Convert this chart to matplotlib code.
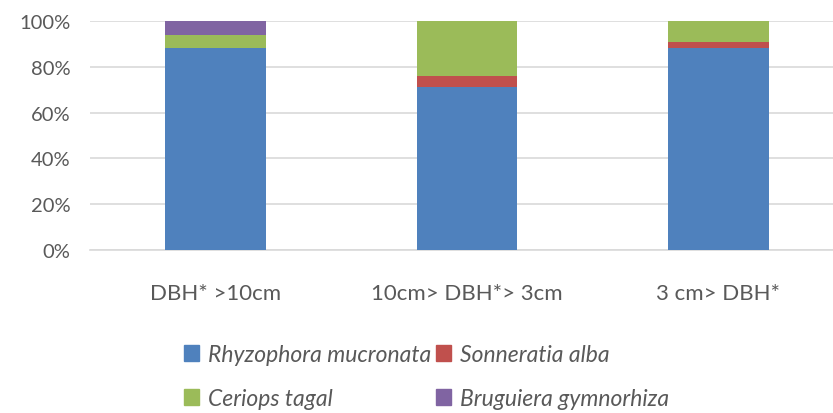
import numpy as np
import matplotlib.pyplot as plt
from matplotlib.patches import Patch

plt.rcParams['font.family'] = ['Lato', 'DejaVu Sans']

categories = ["DBH* >10cm", "10cm> DBH*> 3cm", "3 cm> DBH*"]
species = ["Rhyzophora mucronata", "Sonneratia alba", "Ceriops tagal", "Bruguiera gymnorhiza"]
rhyzophora = [88, 71, 88]
sonneratia = [0, 5, 3]
ceriops = [6, 24, 9]
bruguiera = [6, 0, 0]
colors = ["#4F81BD", "#C0504D", "#9BBB59", "#8064A2"]

series = [rhyzophora, sonneratia, ceriops, bruguiera]

fig = plt.figure(figsize=(8.33, 4.14), dpi=100)
ax = fig.add_axes([90/833, 1 - 251/414, (833 - 90)/833, (251 - 22)/414])

x = np.arange(len(categories))
bottom = np.zeros(len(categories))
for vals, c in zip(series, colors):
    ax.bar(x, vals, 0.4, bottom=bottom, color=c, zorder=3)
    bottom += np.array(vals)

ax.set_ylim(0, 100)
ax.set_xlim(-0.5, 2 + (833 - 718) / 252)
ax.set_yticks(range(0, 101, 20))
ax.set_yticklabels([f"{v}%" for v in range(0, 101, 20)])
ax.set_xticks(x)
ax.set_xticklabels(categories)
ax.yaxis.grid(True, color="#D9D9D9", linewidth=1.2, zorder=0)
for s in ["top", "right", "left"]:
    ax.spines[s].set_visible(False)
ax.spines["bottom"].set_color("#D9D9D9")
ax.spines["bottom"].set_linewidth(1.2)
ax.tick_params(length=0, colors="#595959")
ax.tick_params(axis="y", labelsize=14.5, pad=14)
ax.tick_params(axis="x", labelsize=16, pad=24)

handles = [Patch(color=c, label=s) for s, c in zip(species, colors)]
order = [0, 2, 1, 3]
leg = fig.legend([handles[i] for i in order], [species[i] for i in order],
                 ncol=2, loc="upper left", bbox_to_anchor=(168/833, 1 - 329/414),
                 frameon=False, handlelength=0.65, handleheight=0.65,
                 handletextpad=0.4, columnspacing=0.2, labelspacing=1.0,
                 borderpad=0.2, prop={"size": 16.5, "style": "italic"})
for t in leg.get_texts():
    t.set_color("#595959")

fig.savefig("out.png", dpi=100)
